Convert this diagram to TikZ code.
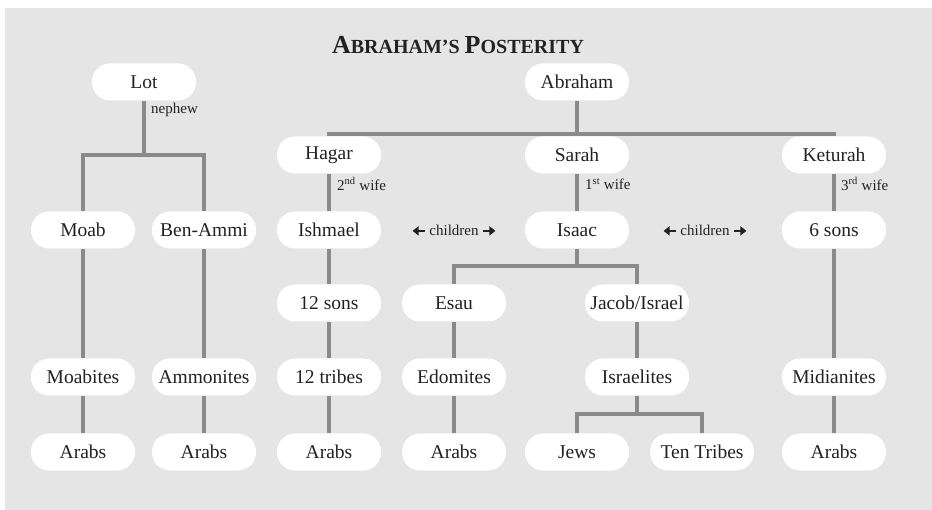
\documentclass[tikz,border=0pt]{standalone}
\usepackage{fontspec}
\setmainfont{Liberation Serif}
\usetikzlibrary{arrows.meta}
\definecolor{bggray}{HTML}{E5E5E5}
\definecolor{linegray}{HTML}{8A8A8A}
\definecolor{txt}{HTML}{222222}
\newcommand{\larr}{\tikz[baseline=-0.6ex]\draw[txt,line width=2.2pt,-{Triangle[length=6pt,width=9pt]}] (0pt,0pt)--(-12pt,0pt);}
\newcommand{\rarr}{\tikz[baseline=-0.6ex]\draw[txt,line width=2.2pt,-{Triangle[length=6pt,width=9pt]}] (0pt,0pt)--(12pt,0pt);}
\tikzset{
  pill/.style={fill=white, rounded corners=18pt, minimum width=104pt, minimum height=37pt, inner sep=0pt, text=txt, font=\fontsize{19.5}{22}\selectfont},
  conn/.style={draw=linegray, line width=4pt},
  lbl/.style={anchor=west, inner sep=0pt, text=txt, font=\fontsize{15}{17}\selectfont},
  kids/.style={inner sep=0pt, text=txt, font=\fontsize{15}{17}\selectfont}
}
\begin{document}
\begin{tikzpicture}[x=1pt,y=-1pt]
\useasboundingbox (0,0) rectangle (932,510);
\fill[bggray] (5,8) rectangle (932,510);
\node[text=txt, font=\bfseries] (title) at (458,45) {{\fontsize{26}{28}\selectfont A}{\fontsize{20}{22}\selectfont BRAHAM'S }{\fontsize{26}{28}\selectfont P}{\fontsize{20}{22}\selectfont OSTERITY}};
% row 1
\node[pill] (lot) at (144,82) {Lot};
\node[pill] (abraham) at (577,82) {Abraham};
% row 2
\node[pill] (hagar) at (329,155) {Hagar};
\node[pill] (sarah) at (577,155) {Sarah};
\node[pill] (keturah) at (834,155) {Keturah};
% row 3
\node[pill] (moab) at (83,230) {Moab};
\node[pill] (benammi) at (204,230) {Ben-Ammi};
\node[pill] (ishmael) at (329,230) {Ishmael};
\node[pill] (isaac) at (577,230) {Isaac};
\node[pill] (sixsons) at (834,230) {6 sons};
% row 4
\node[pill] (twelvesons) at (329,303) {12 sons};
\node[pill] (esau) at (454,303) {Esau};
\node[pill] (jacob) at (637,303) {Jacob/Israel};
% row 5
\node[pill] (moabites) at (83,377) {Moabites};
\node[pill] (ammonites) at (204,377) {Ammonites};
\node[pill] (tribes) at (329,377) {12 tribes};
\node[pill] (edomites) at (454,377) {Edomites};
\node[pill] (israelites) at (637,377) {Israelites};
\node[pill] (midianites) at (834,377) {Midianites};
% row 6
\node[pill] (arabsA) at (83,452) {Arabs};
\node[pill] (arabsB) at (204,452) {Arabs};
\node[pill] (arabsC) at (329,452) {Arabs};
\node[pill] (arabsD) at (454,452) {Arabs};
\node[pill] (jews) at (577,452) {Jews};
\node[pill] (tentribes) at (702,452) {Ten Tribes};
\node[pill] (arabsE) at (834,452) {Arabs};
% junctions
\coordinate (lj) at (144,155);
\coordinate (aj) at (577,134);
\coordinate (ij) at (577,266);
\coordinate (sj) at (637,414);
% connectors
\draw[conn] (lot.south) -- (lj);
\draw[conn] (moab.north) |- (lj) -| (benammi.north);
\draw[conn] (abraham.south) -- (aj);
\draw[conn] (hagar.north) |- (aj) -| (keturah.north);
\draw[conn] (hagar) -- (ishmael);
\draw[conn] (sarah) -- (isaac);
\draw[conn] (keturah) -- (sixsons);
\draw[conn] (isaac.south) -- (ij);
\draw[conn] (esau.north) |- (ij) -| (jacob.north);
\draw[conn] (moab) -- (moabites);
\draw[conn] (moabites) -- (arabsA);
\draw[conn] (benammi) -- (ammonites);
\draw[conn] (ammonites) -- (arabsB);
\draw[conn] (ishmael) -- (twelvesons);
\draw[conn] (twelvesons) -- (tribes);
\draw[conn] (tribes) -- (arabsC);
\draw[conn] (esau) -- (edomites);
\draw[conn] (edomites) -- (arabsD);
\draw[conn] (jacob) -- (israelites);
\draw[conn] (israelites.south) -- (sj);
\draw[conn] (jews.north) |- (sj) -| (tentribes.north);
\draw[conn] (sixsons) -- (midianites);
\draw[conn] (midianites) -- (arabsE);
% labels
\node[lbl] (nephew) at (151,110) {nephew};
\node[lbl] (wife2) at (337,184) {2\textsuperscript{nd} wife};
\node[lbl] (wife1) at (585,184) {1\textsuperscript{st} wife};
\node[lbl] (wife3) at (841,184) {3\textsuperscript{rd} wife};
\node[kids] (kidsL) at (454,230) {\larr\ children \rarr};
\node[kids] (kidsR) at (705,230) {\larr\ children \rarr};
\end{tikzpicture}
\end{document}
